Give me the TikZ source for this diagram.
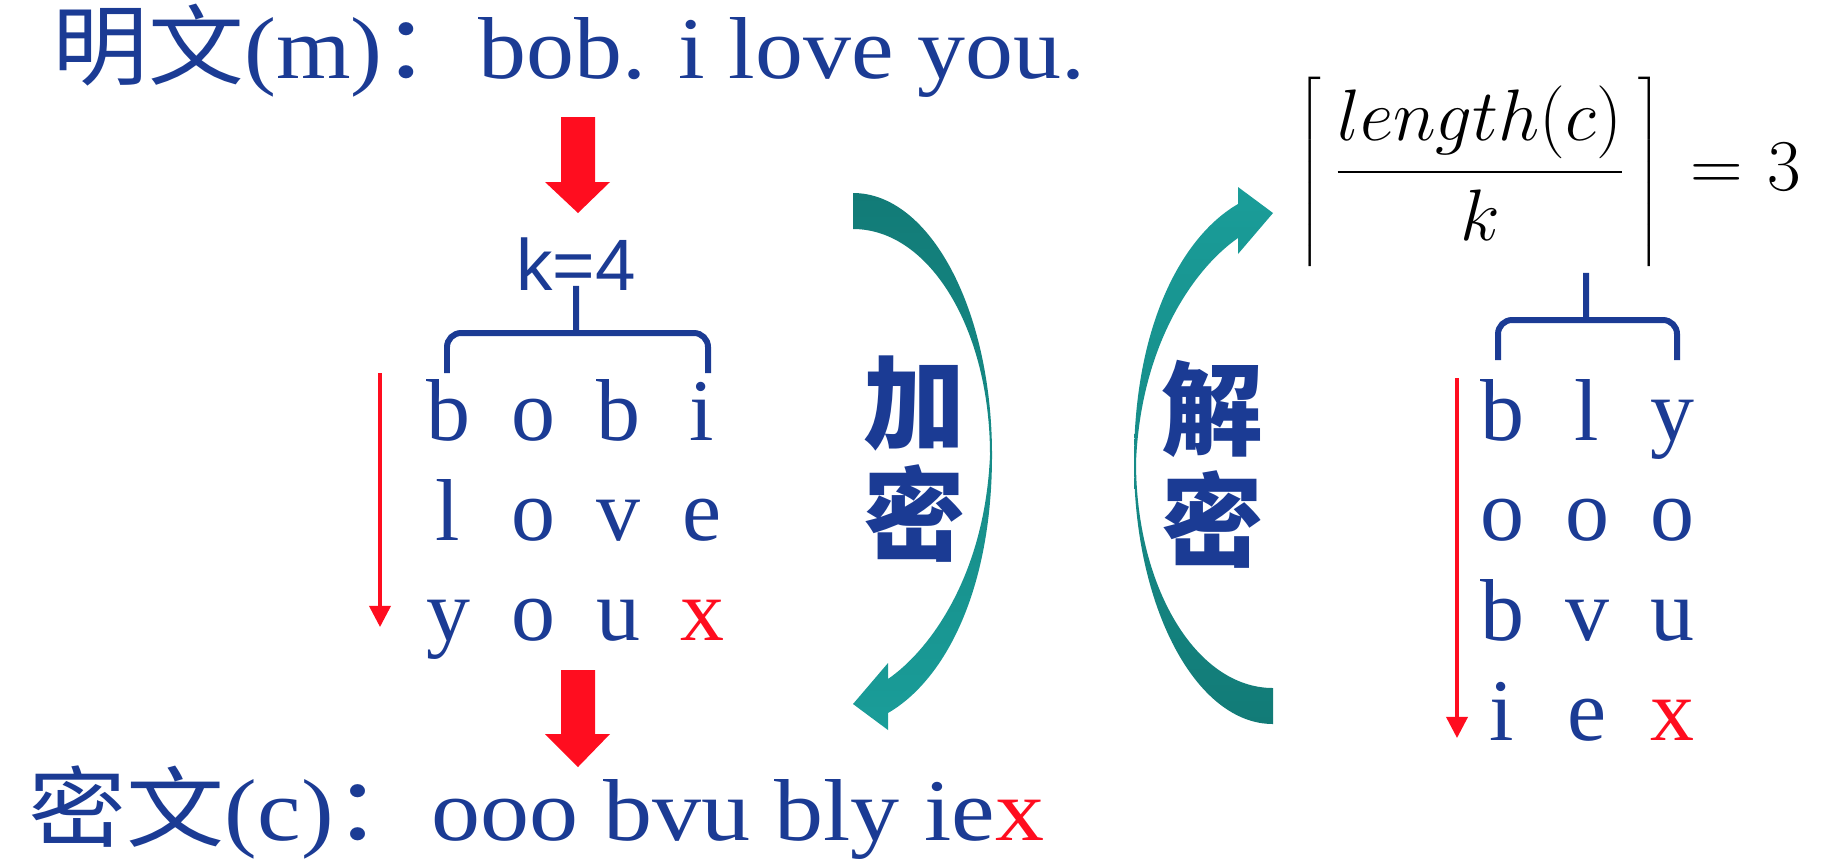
\documentclass[tikz,border=0pt]{standalone}
\usepackage{fontspec}
\setmainfont{Liberation Serif}
\newfontfamily\cjk{Noto Sans CJK SC}
\newfontfamily\arial{Liberation Sans}
\usetikzlibrary{arrows.meta}
\definecolor{cblue}{HTML}{1B3B94}
\definecolor{cred}{HTML}{FF0D1F}
\definecolor{tealdark}{HTML}{127B77}
\definecolor{teallight}{HTML}{1A9D99}
\tikzset{
  letter/.style={inner sep=0pt, anchor=base, text=cblue, font=\fontsize{25}{30}\selectfont},
  textline/.style={inner sep=0pt, anchor=base west, text=cblue, font=\fontsize{25}{30}\selectfont},
  zh/.style={inner sep=0pt, text=cblue, font=\fontsize{29}{34}\selectfont\cjk\bfseries},
  curly/.style={draw=cblue, line width=1.7pt, rounded corners=4pt},
  blockarrow/.style={fill=cred},
  thinarrow/.style={draw=cred, line width=1pt, -{Triangle[width=6pt,length=6pt]}}
}
\begin{document}
\begin{tikzpicture}[x=0.01cm, y=-0.01cm]
  \useasboundingbox (0,0) rectangle (1822,860);
  % plaintext and ciphertext
  \node[textline, xscale=1.09] (plain) at (52,78) {{\cjk 明文}(m){\cjk ：}bob. i love you.};
  \node[textline, xscale=1.115] (cipher) at (28,840) {{\cjk 密文}(c){\cjk ：}ooo bvu bly ie\textcolor{cred}{x}};
  % big red arrows
  \fill[blockarrow] (561,117) -- (595,117) -- (595,182) -- (610,182) -- (578,213) -- (545,182) -- (561,182) -- cycle;
  \fill[blockarrow] (561,670) -- (595,670) -- (595,734) -- (610,734) -- (578,767) -- (545,734) -- (561,734) -- cycle;
  % key
  \node[inner sep=0pt, anchor=base, text=cblue, font=\arial\fontsize{20.7}{24}\selectfont] (key) at (576,290) {k=4};
  \draw[curly] (447,373) -- (447,333) -- (562,333) .. controls (576,333) .. (576,300) -- (576,293)
    -- (576,300) .. controls (576,333) .. (590,333) -- (708,333) -- (708,373);
  % encryption table
  \draw
    (448,440) node[letter] (p11){b}
    (533,440) node[letter] (p12){o}
    (618,440) node[letter] (p13){b}
    (702,440) node[letter] (p14){i}
    (448,540) node[letter] (p21){l}
    (533,540) node[letter] (p22){o}
    (618,540) node[letter] (p23){v}
    (702,540) node[letter] (p24){e}
    (448,640) node[letter] (p31){y}
    (533,640) node[letter] (p32){o}
    (618,640) node[letter] (p33){u}
    (702,640) node[letter, text=cred] (p34){x};
  \coordinate (ptop) at (380,373);
  \coordinate (pbot) at (380,627);
  \draw[thinarrow] (ptop) -- (pbot);
  % encrypt / decrypt
  \shade[top color=tealdark, bottom color=teallight]
    (853,193) .. controls (930,193) and (992,310) .. (992,455)
    .. controls (992,590) and (945,680) .. (888,713)
    -- (888,730) -- (853,704) -- (888,663) -- (888,679)
    .. controls (930,650) and (985,575) .. (990,455)
    .. controls (990,330) and (930,229) .. (853,229) -- cycle;
  \shade[top color=teallight, bottom color=tealdark]
    (1273,724) .. controls (1196,724) and (1134,607) .. (1134,462)
    .. controls (1134,327) and (1181,237) .. (1238,204)
    -- (1238,187) -- (1273,213) -- (1238,254) -- (1238,238)
    .. controls (1196,267) and (1141,342) .. (1136,462)
    .. controls (1136,587) and (1196,688) .. (1273,688) -- cycle;
  \node[zh] (enc1) at (914,403) {加};
  \node[zh] (enc2) at (914,514) {密};
  \node[zh] (dec1) at (1212,409) {解};
  \node[zh] (dec2) at (1212,520) {密};
  % rows
  \node[inner sep=0pt, anchor=west, font=\fontsize{20.74}{24}\selectfont] (rows) at (1297,172)
    {$\left\lceil\vrule height 32.2pt depth 21.8pt width 0pt\,\displaystyle\frac{length(c)}{k}\,\right\rceil\mkern2mu=\mkern1mu3$};
  \draw[curly] (1498,360) -- (1498,320) -- (1572,320) .. controls (1586,320) .. (1586,287) -- (1586,280)
    -- (1586,287) .. controls (1586,320) .. (1600,320) -- (1677,320) -- (1677,360);
  % decryption table
  \draw
    (1502,440) node[letter] (q11){b}
    (1587,440) node[letter] (q12){l}
    (1672,440) node[letter] (q13){y}
    (1502,540) node[letter] (q21){o}
    (1587,540) node[letter] (q22){o}
    (1672,540) node[letter] (q23){o}
    (1502,640) node[letter] (q31){b}
    (1587,640) node[letter] (q32){v}
    (1672,640) node[letter] (q33){u}
    (1502,740) node[letter] (q41){i}
    (1587,740) node[letter] (q42){e}
    (1672,740) node[letter, text=cred] (q43){x};
  \coordinate (qtop) at (1457,378);
  \coordinate (qbot) at (1457,738);
  \draw[thinarrow] (qtop) -- (qbot);
\end{tikzpicture}
\end{document}
